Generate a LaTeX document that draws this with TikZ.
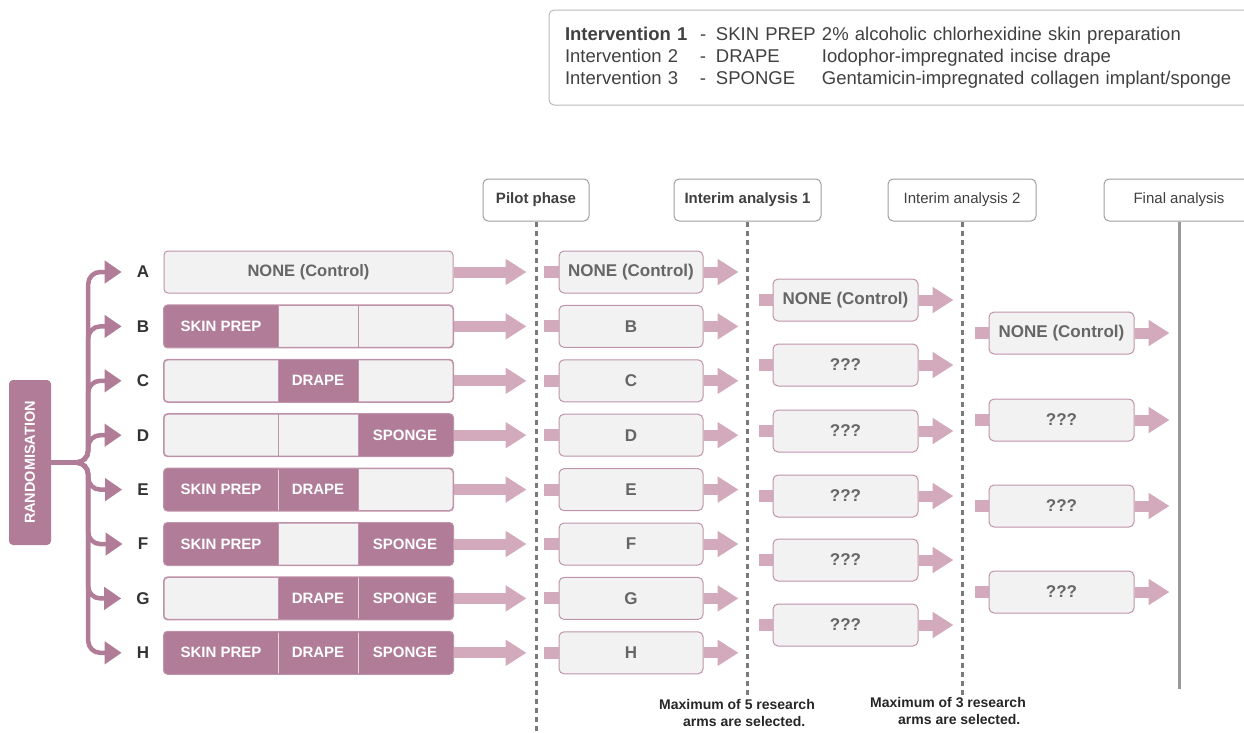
\documentclass[tikz,border=0pt]{standalone}
\usepackage{fontspec}
\setmainfont{Liberation Sans}
\usetikzlibrary{arrows.meta}

\definecolor{mauve}{HTML}{B07C97}
\definecolor{arrowpink}{HTML}{D3A9BC}
\definecolor{boxgray}{HTML}{F2F2F2}
\definecolor{boxline}{HTML}{BF94AA}
\definecolor{seglight}{HTML}{E6D3DC}
\definecolor{txtgray}{HTML}{666666}
\definecolor{rulegray}{HTML}{7A7A7A}

\tikzset{
    legendbox/.style={draw=gray!55, rounded corners=5pt, line width=1pt, text width=689pt, align=left,
        minimum height=95pt, inner xsep=16pt, text=black!75, font=\fontsize{18.5}{22}\selectfont},
    headbox/.style={draw=gray!75, fill=white, rounded corners=5pt, line width=1pt, minimum height=42pt,
        text=black!75, font=\fontsize{15}{17}\selectfont},
    headbold/.style={font=\fontsize{15}{17}\selectfont\bfseries},
    randbox/.style={fill=mauve, rounded corners=4pt, minimum width=42pt, minimum height=165pt, inner sep=0pt,
        text=white, font=\fontsize{14.5}{16}\selectfont\bfseries},
    armbox/.style={draw=boxline, fill=boxgray, rounded corners=4pt, line width=1pt, minimum width=289pt,
        minimum height=42pt, inner sep=0pt},
    phasebox/.style={draw=boxline, fill=boxgray, rounded corners=5pt, line width=1pt, minimum width=145pt,
        minimum height=42pt, inner sep=0pt, text=txtgray, font=\fontsize{17}{19}\selectfont\bfseries},
    seglabel/.style={text=white, font=\fontsize{15}{17}\selectfont\bfseries},
    armletter/.style={inner sep=0pt, text=black!80, font=\fontsize{17}{19}\selectfont\bfseries},
    branch/.style={draw=mauve, line width=4.5pt, rounded corners=12pt, -{Triangle[length=17pt,width=22pt]}},
    fatarrow/.style={draw=arrowpink, line width=11pt, -{Triangle[length=21pt,width=25pt]}},
    stub/.style={draw=arrowpink, line width=12pt},
    phaseline/.style={draw=rulegray, line width=3pt, dash pattern=on 5pt off 4pt},
    note/.style={inner sep=0pt, align=left, text=black!85, font=\fontsize{14}{17}\selectfont\bfseries},
}

\begin{document}
\begin{tikzpicture}[x=1pt, y=-1pt]
    \useasboundingbox (0,0) rectangle (1244,732);

    % Legend:
    \node[legendbox] (legend) at (909.5,57.5) {%
        \makebox[135pt][l]{\bfseries Intervention 1}\makebox[16pt][l]{-}\makebox[106pt][l]{SKIN PREP}2\% alcoholic chlorhexidine skin preparation\\
        \makebox[135pt][l]{Intervention 2}\makebox[16pt][l]{-}\makebox[106pt][l]{DRAPE}Iodophor-impregnated incise drape\\
        \makebox[135pt][l]{Intervention 3}\makebox[16pt][l]{-}\makebox[106pt][l]{SPONGE}Gentamicin-impregnated collagen implant/sponge};

    % Phases:
    \node[headbox, headbold, minimum width=106pt] (hpilot) at (536,200) {Pilot phase};
    \node[headbox, headbold, minimum width=147pt] (hint1) at (747.5,200) {Interim analysis 1};
    \node[headbox, minimum width=148pt] (hint2) at (962,200) {Interim analysis 2};
    \node[headbox, minimum width=150pt] (hfinal) at (1179,200) {Final analysis};
    \draw[phaseline] (hpilot.south) -- ++(0,512);
    \draw[phaseline] (hint1.south) -- ++(0,475);
    \draw[phaseline] (hint2.south) -- ++(0,475);
    \draw[draw=gray!80, line width=3pt] (hfinal.south) -- ++(0,467);

    % Randomisation:
    \node[randbox] (rand) at (30,462.5) {\rotatebox{90}{RANDOMISATION}};
    \foreach \l/\y in {A/272, B/326.4, C/380.8, D/435.2, E/489.6, F/544, G/598.4, H/652.8} {
        \node[armletter] (let\l) at (143,\y) {\l};
        \draw[branch, shorten >=15pt] (rand.east) -- ++(37,0) |- (let\l.west);
    }

    % Arms:
    \node[armbox, text=txtgray, font=\fontsize{16.5}{18}\selectfont\bfseries] (armA) at (308.5,272) {NONE (Control)};
    \foreach \l/\y/\a/\b/\c in {B/326.4/1/0/0, C/380.8/0/1/0, D/435.2/0/0/1, E/489.6/1/1/0,
                                F/544/1/0/1, G/598.4/0/1/1, H/652.8/1/1/1} {
        \node[armbox] (arm\l) at (308.5,\y) {};
        \begin{scope}
            \clip[rounded corners=4pt] (arm\l.north west) rectangle (arm\l.south east);
            \ifnum\a=1 \fill[mauve] (arm\l.north west) rectangle (278,\y+21); \fi
            \ifnum\b=1 \fill[mauve] (278,\y-21) rectangle (358,\y+21); \fi
            \ifnum\c=1 \fill[mauve] (358,\y-21) rectangle (arm\l.south east); \fi
        \end{scope}
        \draw[boxline, line width=1pt, rounded corners=4pt] (arm\l.north west) rectangle (arm\l.south east);
        \draw[boxline, line width=1pt] (278,\y-21) -- (278,\y+21) (358,\y-21) -- (358,\y+21);
        \ifnum\a\b=11 \draw[seglight, line width=1pt] (278,\y-20) -- (278,\y+20); \fi
        \ifnum\b\c=11 \draw[seglight, line width=1pt] (358,\y-20) -- (358,\y+20); \fi
        \ifnum\a=1 \node[seglabel] (skin\l) at (221,\y) {SKIN PREP}; \fi
        \ifnum\b=1 \node[seglabel] (drape\l) at (318,\y) {DRAPE}; \fi
        \ifnum\c=1 \node[seglabel] (sponge\l) at (405,\y) {SPONGE}; \fi
    }

    % Pilot phase:
    \foreach \l/\y/\t in {A/272/NONE (Control), B/326.4/B, C/380.8/C, D/435.2/D, E/489.6/E,
                          F/544/F, G/598.4/G, H/652.8/H} {
        \node[phasebox, minimum width=144pt] (pilot\l) at (631,\y) {\t};
        \draw[fatarrow, shorten >=32pt] (arm\l.east) -- (pilot\l.west);
        \draw[stub] (pilot\l.west) -- ++(-15,0);
        \draw[fatarrow] (pilot\l.east) -- ++(35,0);
    }

    % Interim analysis 1:
    \foreach \y/\t [count=\i] in {300/NONE (Control), 365/???, 431/???, 496/???, 560/???, 625/???} {
        \node[phasebox] (sel\i) at (845.5,\y) {\t};
        \draw[stub] (sel\i.west) -- ++(-14,0);
        \draw[fatarrow] (sel\i.east) -- ++(35,0);
    }

    % Interim analysis 2:
    \foreach \y/\t [count=\i] in {333/NONE (Control), 420/???, 506/???, 592/???} {
        \node[phasebox] (fin\i) at (1061.5,\y) {\t};
        \draw[stub] (fin\i.west) -- ++(-14,0);
        \draw[fatarrow] (fin\i.east) -- ++(35,0);
    }

    % Notes:
    \node[note, anchor=north west] (note1) at (659,699) {Maximum of 5 research\\\hspace*{24pt}arms are selected.};
    \node[note, anchor=north west] (note2) at (870,697) {Maximum of 3 research\\\hspace*{28pt}arms are selected.};
\end{tikzpicture}
\end{document}
